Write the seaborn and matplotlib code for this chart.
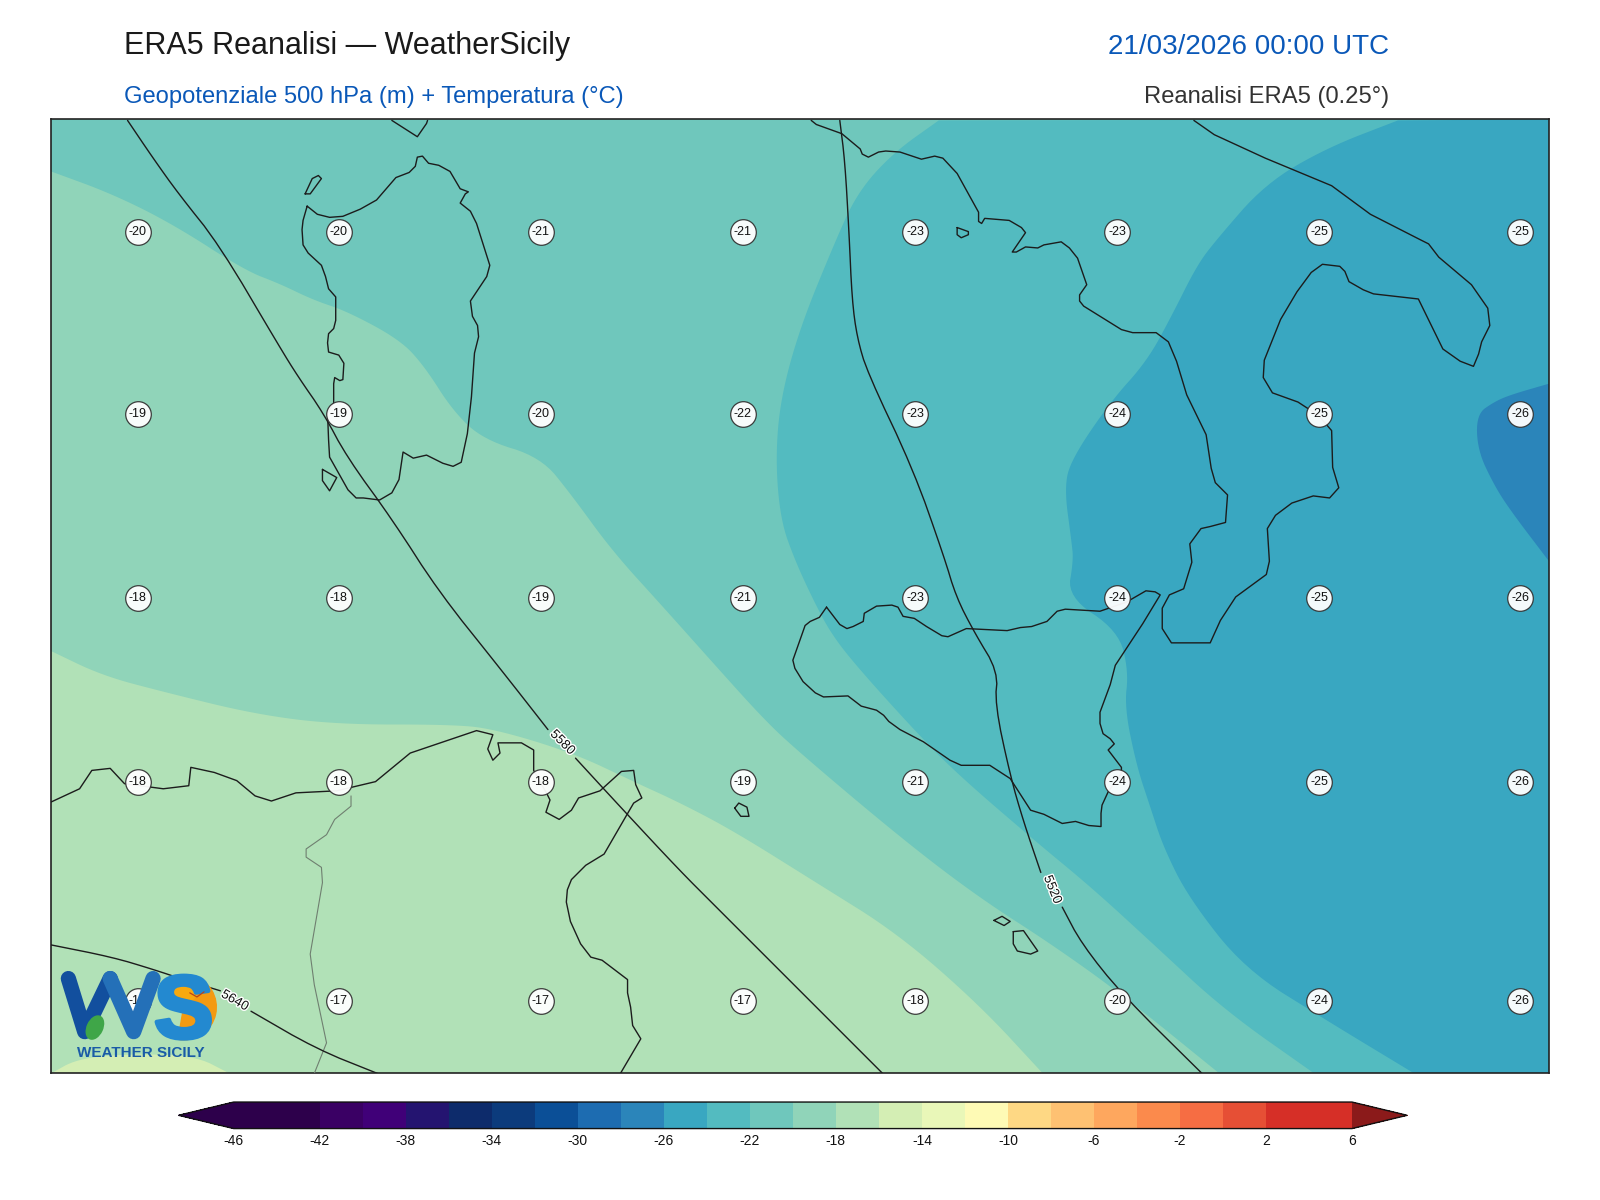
import numpy as np
import pandas as pd
import matplotlib
matplotlib.use("Agg")
import matplotlib.pyplot as plt
import matplotlib.patheffects as pe
import seaborn as sns
from matplotlib.colors import ListedColormap, BoundaryNorm
from matplotlib.cm import ScalarMappable
from matplotlib.patches import Wedge, Ellipse

# Map positions are in the map grid (x right, y down)

# Colour scale (degrees C)
levels = list(range(-46, 8, 2))
band_colors = ['#2d004b', '#2d004b', '#3a0064', '#400078', '#241470', '#0d2b6b', '#0c3b7c',
               '#0b4f97', '#1d6cb1', '#2b85ba', '#39a7c1', '#53bbc0', '#6fc7bc', '#90d4b9',
               '#b1e1b7', '#d4eeb4', '#e9f7b8', '#fefab5', '#fed884', '#fec172', '#fea75e',
               '#fb8a4c', '#f66d43', '#e64f35', '#d62f27', '#d62f27']
under_color = '#2d004b'
over_color = '#8b1a1a'
tick_values = list(range(-46, 10, 4))

# Temperature labels
label_x = [135, 332, 530, 728, 897, 1095, 1293, 1490]
label_y = [227, 406, 586, 766, 981]
temp_row1 = [-20, -20, -21, -21, -23, -23, -25, -25]
temp_row2 = [-19, -19, -20, -22, -23, -24, -25, -26]
temp_row3 = [-18, -18, -19, -21, -23, -24, -25, -26]
temp_row4 = [-18, -18, -18, -19, -21, -24, -25, -26]
temp_row5 = [-17, -17, -17, -17, -18, -20, -24, -26]

# Isotherms, read along the band edges
iso_m16_x = [50, 75, 120, 190, 225]
iso_m16_y = [1052, 1038, 1033, 1034, 1052]
iso_m18_x = [50, 100, 160, 250, 330, 440, 483, 562, 621, 667, 720, 800, 880, 960, 1022]
iso_m18_y = [638, 662, 678, 700, 710, 710, 714, 738, 766, 787, 815, 865, 915, 985, 1052]
iso_m20_x = [50, 110, 170, 240, 274, 307, 340, 392, 416, 444, 474, 530, 560, 600, 650, 700, 745, 777, 885, 960, 1030, 1100, 1195]
iso_m20_y = [168, 190, 220, 265, 278, 294, 305, 333, 359, 403, 431, 448, 485, 540, 595, 651, 701, 732, 823, 880, 925, 975, 1052]
iso_m22_x = [920, 875, 840, 817, 784, 765, 760, 765, 779, 797, 815, 843, 902, 941, 1013, 1070, 1130, 1200, 1288]
iso_m22_y = [118, 150, 189, 240, 321, 390, 450, 510, 549, 588, 622, 657, 722, 761, 823, 870, 925, 990, 1052]
iso_m24_x = [1370, 1300, 1240, 1192, 1173, 1148, 1124, 1088, 1050, 1043, 1050, 1052, 1046, 1096, 1106, 1102, 1114, 1127, 1140, 1165, 1220, 1300, 1386]
iso_m24_y = [118, 145, 180, 235, 260, 310, 354, 394, 450, 478, 530, 549, 585, 618, 658, 693, 751, 790, 830, 880, 950, 1000, 1052]
iso_m26_x = [1518, 1480, 1464, 1447, 1448, 1464, 1480, 1518]
iso_m26_y = [376, 387, 394, 406, 441, 475, 500, 550]

# Coasts
sardinia_x = [301, 297, 296, 297, 302, 315, 319, 322, 329, 329, 327, 322, 321, 322, 332, 337, 336, 333, 328, 327, 327, 321, 322, 323, 341, 349, 356, 372, 384, 391, 395, 405, 418, 434, 444, 452, 458, 462, 465, 469, 468, 463, 461, 477, 480, 467, 461, 451, 456, 459, 451, 441, 430, 420, 414, 409, 407, 401, 388, 369, 353, 336, 323, 311, 301]
sardinia_y = [202, 216, 225, 240, 248, 260, 271, 283, 291, 314, 322, 327, 336, 345, 348, 356, 372, 373, 370, 376, 395, 405, 431, 448, 480, 488, 488, 490, 483, 470, 443, 449, 446, 454, 457, 453, 425, 389, 346, 330, 319, 310, 295, 271, 260, 219, 207, 199, 190, 188, 185, 168, 162, 160, 153, 154, 163, 169, 174, 196, 205, 212, 213, 210, 202]
asinara_x = [299, 304, 315, 312, 306, 299]
asinara_y = [190, 190, 175, 172, 175, 190]
antioco_x = [316, 330, 323, 316, 316]
antioco_y = [460, 468, 481, 471, 460]
corsica_x = [384, 409, 418, 419]
corsica_y = [118, 134, 121, 118]
sicily_x = [810, 803, 794, 789, 777, 779, 787, 799, 807, 831, 844, 859, 866, 871, 882, 905, 931, 942, 970, 990, 1010, 1023, 1041, 1054, 1067, 1079, 1079, 1080, 1086, 1099, 1099, 1086, 1092, 1088, 1081, 1078, 1078, 1088, 1093, 1120, 1137, 1132, 1123, 1104, 1078, 1044, 1036, 1026, 1011, 1000, 987, 967, 947, 929, 923, 908, 896, 885, 880, 874, 859, 847, 846, 836, 830, 823, 810]
sicily_y = [595, 605, 609, 613, 647, 655, 668, 679, 683, 682, 692, 696, 701, 707, 715, 727, 745, 750, 750, 763, 794, 798, 807, 805, 809, 810, 797, 789, 776, 758, 752, 735, 729, 724, 719, 709, 698, 671, 652, 611, 583, 580, 579, 590, 599, 597, 599, 609, 614, 615, 618, 617, 616, 624, 623, 614, 606, 604, 595, 593, 594, 601, 609, 614, 616, 612, 595]
italy_x = [795, 800, 825, 843, 845, 851, 861, 868, 882, 903, 916, 924, 938, 959, 959, 962, 965, 989, 1001, 1005, 992, 996, 1005, 1017, 1023, 1040, 1048, 1056, 1065, 1058, 1058, 1062, 1099, 1110, 1133, 1145, 1153, 1163, 1182, 1187, 1191, 1203, 1201, 1186, 1177, 1166, 1168, 1160, 1146, 1139, 1139, 1148, 1186, 1196, 1211, 1241, 1244, 1242, 1250, 1266, 1287, 1303, 1312, 1306, 1305, 1292, 1272, 1247, 1238, 1239, 1255, 1271, 1285, 1296, 1313, 1318, 1322, 1336, 1346, 1390, 1414, 1431, 1444, 1449, 1452, 1460, 1458, 1442, 1410, 1400, 1392, 1343, 1305, 1240, 1190, 1170]
italy_y = [118, 122, 131, 146, 151, 154, 149, 148, 149, 156, 153, 155, 170, 208, 217, 219, 214, 216, 223, 228, 247, 247, 242, 243, 240, 237, 243, 253, 279, 289, 295, 300, 323, 326, 326, 335, 354, 387, 426, 459, 473, 485, 512, 516, 518, 533, 551, 577, 583, 596, 616, 630, 630, 608, 585, 563, 550, 518, 505, 493, 486, 488, 478, 458, 422, 407, 394, 385, 370, 353, 313, 286, 267, 259, 261, 266, 276, 284, 288, 293, 342, 354, 359, 347, 335, 319, 302, 279, 252, 239, 235, 210, 182, 155, 132, 118]
africa_x = [50, 78, 90, 108, 122, 160, 185, 187, 210, 232, 250, 266, 290, 330, 368, 402, 467, 483, 478, 483, 490, 488, 511, 523, 523, 536, 539, 535, 548, 560, 567, 588, 609, 621, 623, 629, 621, 614, 592, 574, 560, 556, 555, 559, 569, 579, 590, 615, 615, 618, 620, 628, 608]
africa_y = [786, 773, 755, 753, 768, 773, 770, 752, 757, 765, 780, 785, 777, 775, 766, 738, 716, 720, 734, 745, 738, 728, 728, 735, 755, 778, 784, 796, 803, 794, 782, 775, 756, 755, 769, 782, 787, 799, 837, 848, 862, 872, 884, 903, 925, 938, 941, 960, 973, 987, 1005, 1018, 1052]
border_x = [344, 344, 328, 320, 300, 300, 315, 316, 304, 308, 320, 308]
border_y = [780, 790, 803, 818, 832, 840, 850, 865, 935, 965, 1022, 1052]
pantelleria_x = [720, 724, 732, 734, 726, 720]
pantelleria_y = [792, 787, 791, 800, 800, 792]
malta_x = [993, 1003, 1017, 1010, 997, 993, 993]
malta_y = [913, 912, 932, 935, 932, 925, 913]
gozo_x = [974, 982, 990, 984, 974]
gozo_y = [902, 898, 903, 907, 902]
lipari_x = [938, 949, 949, 942, 938, 938]
lipari_y = [223, 227, 230, 233, 230, 223]

# Geopotential height contours, split where the label sits
z5580_a_x = [125, 150, 175, 215, 274, 292, 317, 340, 385, 430, 490, 537]
z5580_a_y = [118, 155, 190, 240, 340, 369, 405, 448, 510, 580, 655, 715]
z5580_b_x = [564, 610, 666, 700, 780, 865]
z5580_b_y = [743, 793, 853, 887, 967, 1052]
z5520_a_x = [823, 828, 832, 835, 840, 850, 895, 925, 937, 955, 978, 975, 990, 1003, 1020]
z5520_a_y = [118, 158, 227, 294, 331, 365, 460, 545, 585, 620, 658, 690, 760, 805, 855]
z5520_b_x = [1041, 1060, 1100, 1178]
z5520_b_y = [889, 925, 975, 1052]
z5640_a_x = [50, 110, 150, 180, 216]
z5640_a_y = [926, 938, 950, 960, 971]
z5640_b_x = [246, 310, 370]
z5640_b_y = [991, 1028, 1052]

# Logo strokes
logo_w_left_x = [67, 83, 108]
logo_w_left_y = [959, 1011, 959]
logo_w_right_x = [108, 131, 150]
logo_w_right_y = [959, 1011, 959]
logo_bird_x = [186, 193, 200]
logo_bird_y = [973, 977, 972]

sns.set_theme(style="white")
plt.rcParams['font.family'] = ['Liberation Sans', 'DejaVu Sans']
plt.rcParams['axes.unicode_minus'] = False

cmap = ListedColormap(band_colors)
cmap.set_under(under_color)
cmap.set_over(over_color)
norm = BoundaryNorm(levels, cmap.N)

W, H = 1568, 1176
fig = plt.figure(figsize=(16, 12), dpi=100)
ax = fig.add_axes([50 / W, 1 - 1052 / H, 1468 / W, 935 / H])
ax.set_facecolor(cmap(norm(-17)))


# Round the corners of a traced edge so it reads like a contour
def smooth(xs, ys, passes=3):
    pts = np.column_stack([xs, ys]).astype(float)
    for _ in range(passes):
        a = pts[:-1] * 0.75 + pts[1:] * 0.25
        b = pts[:-1] * 0.25 + pts[1:] * 0.75
        mid = np.empty((len(a) * 2, 2))
        mid[0::2] = a
        mid[1::2] = b
        pts = np.vstack([pts[:1], mid, pts[-1:]])
    return list(pts[:, 0]), list(pts[:, 1])


def fill_band(xs, ys, corners_x, corners_y, value, z):
    sx, sy = smooth(xs, ys)
    ax.fill(sx + corners_x, sy + corners_y, color=cmap(norm(value)), lw=0, zorder=z)


# Fill bands from warm to cold
fill_band(iso_m18_x, iso_m18_y, [1518, 1518, 50], [1052, 117, 117], -19, 1)
fill_band(iso_m20_x, iso_m20_y, [1518, 1518, 50], [1052, 117, 117], -21, 1.1)
fill_band(iso_m22_x, iso_m22_y, [1518, 1518], [1052, 117], -23, 1.2)
fill_band(iso_m24_x, iso_m24_y, [1518, 1518], [1052, 117], -25, 1.3)
fill_band(iso_m26_x, iso_m26_y, [], [], -27, 1.4)
fill_band(iso_m16_x, iso_m16_y, [], [], -15, 1.5)


def draw_line(xs, ys, color='#1c1c1c', lw=1.0, z=3, **kws):
    sns.lineplot(x=xs, y=ys, sort=False, estimator=None, color=color, linewidth=lw,
                 legend=False, ax=ax, zorder=z, **kws)


coasts = [(sardinia_x, sardinia_y), (asinara_x, asinara_y), (antioco_x, antioco_y),
          (corsica_x, corsica_y), (sicily_x, sicily_y), (italy_x, italy_y),
          (africa_x, africa_y), (pantelleria_x, pantelleria_y), (malta_x, malta_y),
          (gozo_x, gozo_y), (lipari_x, lipari_y)]
for xs, ys in coasts:
    draw_line(xs, ys)
draw_line(border_x, border_y, color='#6f7f70', lw=0.8)

for xs, ys in [(z5580_a_x, z5580_a_y), (z5580_b_x, z5580_b_y), (z5520_a_x, z5520_a_y),
               (z5520_b_x, z5520_b_y), (z5640_a_x, z5640_a_y), (z5640_b_x, z5640_b_y)]:
    sx, sy = smooth(xs, ys, passes=2)
    draw_line(sx, sy)

halo = [pe.withStroke(linewidth=2, foreground='white')]
ax.text(551, 728, '5580', fontsize=9.5, rotation=-45, ha='center', va='center', color='#111', path_effects=halo, zorder=4)
ax.text(1031, 872, '5520', fontsize=9.5, rotation=-68, ha='center', va='center', color='#111', path_effects=halo, zorder=4)
ax.text(230, 981, '5640', fontsize=9.5, rotation=-30, ha='center', va='center', color='#111', path_effects=halo, zorder=4)

# Temperature markers
rows = [temp_row1, temp_row2, temp_row3, temp_row4, temp_row5]
temps = pd.DataFrame([
    {'x': x, 'y': y, 't': t}
    for y, row in zip(label_y, rows)
    for x, t in zip(label_x, row)
])
sns.scatterplot(data=temps, x='x', y='y', s=340, color='white', alpha=0.95, edgecolor='#333333',
                linewidth=0.9, legend=False, ax=ax, zorder=5)
for _, r in temps.iterrows():
    ax.text(r['x'], r['y'], str(int(r['t'])), fontsize=9, ha='center', va='center', color='#111', zorder=6)

# Logo
ax.add_patch(Wedge((180, 987), 32, -75, 100, color='#f39a12', zorder=7))
ax.add_patch(Ellipse((180, 972), 26, 20, color='#f7a90f', zorder=7))
draw_line(logo_w_left_x, logo_w_left_y, color='#124f9e', lw=11, z=8, solid_capstyle='round', solid_joinstyle='round')
draw_line(logo_w_right_x, logo_w_right_y, color='#2470b8', lw=11, z=8, solid_capstyle='round', solid_joinstyle='round')
ax.text(151, 1017, 'S', fontsize=64, fontweight='bold', color='#2389d0', ha='left', va='baseline', zorder=8,
        path_effects=[pe.withStroke(linewidth=3, foreground='#2389d0')])
ax.add_patch(Ellipse((93, 1007), 15, 24, angle=25, color='#3fa648', zorder=9))
draw_line(logo_bird_x, logo_bird_y, color='#b4451f', lw=0.9, z=9)
ax.text(138, 1032, 'WEATHER SICILY', fontsize=11, fontweight='bold', color='#1a5ba6', ha='center', va='center', zorder=8)

ax.set_xlim(50, 1518)
ax.set_ylim(1052, 117)
ax.set_xlabel('')
ax.set_ylabel('')
ax.set_xticks([])
ax.set_yticks([])
for spine in ax.spines.values():
    spine.set_color('#222222')
    spine.set_linewidth(1.2)

# Titles
blue = '#0a58b8'
ax.text(122, 53, 'ERA5 Reanalisi — WeatherSicily', fontsize=22, color='#1a1a1a', clip_on=False)
ax.text(1361, 53, '21/03/2026 00:00 UTC', fontsize=20, color=blue, ha='right', clip_on=False)
ax.text(122, 101, 'Geopotenziale 500 hPa (m) + Temperatura (°C)', fontsize=17.1, color=blue, clip_on=False)
ax.text(1361, 101, 'Reanalisi ERA5 (0.25°)', fontsize=17.1, color='#333333', ha='right', clip_on=False)

# Colour bar
cax = fig.add_axes([175 / W, 1 - 1106 / H, 1204 / W, 26 / H])
sm = ScalarMappable(norm=norm, cmap=cmap)
cbar = fig.colorbar(sm, cax=cax, orientation='horizontal', extend='both',
                    extendfrac=54 / 1095, ticks=tick_values, spacing='uniform')
cbar.ax.minorticks_off()
cbar.ax.tick_params(which='both', length=0, labelsize=10, pad=4, colors='#111111')
cbar.ax.set_xticklabels([str(v) for v in tick_values])
cbar.outline.set_edgecolor('#111111')
cbar.outline.set_linewidth(1.0)

fig.savefig('out.png', dpi=100)
